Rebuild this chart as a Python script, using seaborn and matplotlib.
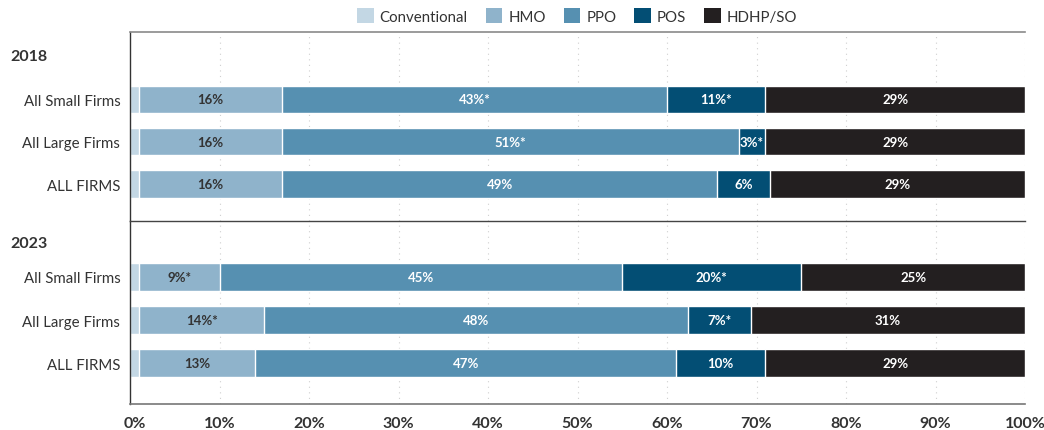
import matplotlib
matplotlib.use("Agg")
import matplotlib.pyplot as plt
import seaborn as sns
import pandas as pd
import numpy as np
from matplotlib.patches import Patch
import matplotlib.transforms as mtransforms

# ---------------- data ----------------
categories = ["All Small Firms", "All Large Firms", "ALL FIRMS"]
plans = ["Conventional", "HMO", "PPO", "POS", "HDHP/SO"]
colors = ["#c3d7e4", "#8fb3cb", "#5690b1", "#034e74", "#231f20"]
label_colors = ["#333333", "#333333", "white", "white", "white"]

conv_2018 = [1, 1, 1]
hmo_2018 = [16, 16, 16]
ppo_2018 = [43, 51, 48.6]
pos_2018 = [11, 3, 5.9]
hdhp_2018 = [29, 29, 28.5]
labels_2018 = [
    ["", "", ""],
    ["16%", "16%", "16%"],
    ["43%*", "51%*", "49%"],
    ["11%*", "3%*", "6%"],
    ["29%", "29%", "29%"],
]

conv_2023 = [1, 1, 1]
hmo_2023 = [9, 14, 13]
ppo_2023 = [45, 47.4, 47]
pos_2023 = [20, 7, 10]
hdhp_2023 = [25, 30.6, 29]
labels_2023 = [
    ["", "", ""],
    ["9%*", "14%*", "13%"],
    ["45%", "48%", "47%"],
    ["20%*", "7%*", "10%"],
    ["25%", "31%", "29%"],
]

years = ["2018", "2023"]
xticks = [0, 10, 20, 30, 40, 50, 60, 70, 80, 90, 100]
xticklabels = [f"{t}%" for t in xticks]

# ---------------- style ----------------
sns.set_theme(style="white")
plt.rcParams["font.family"] = ["Lato", "DejaVu Sans"]

W, H = 1044, 431
fig = plt.figure(figsize=(W / 100, H / 100), dpi=100)

def fx(px):
    return px / W

def fy(py):
    return 1 - py / H

left, right = 130, 1025
ax1 = fig.add_axes([fx(left), fy(222), fx(right) - fx(left), fy(33) - fy(222)])
ax2 = fig.add_axes([fx(left), fy(405), fx(right) - fx(left), fy(222) - fy(405)])

panels = [
    (ax1, [conv_2018, hmo_2018, ppo_2018, pos_2018, hdhp_2018], labels_2018, (2.87, -1.58)),
    (ax2, [conv_2023, hmo_2023, ppo_2023, pos_2023, hdhp_2023], labels_2023, (2.95, -1.30)),
]

for ax, series, labels, ylim in panels:
    arr = np.array(series, dtype=float)
    cum = np.cumsum(arr, axis=0)
    # grid
    for t in xticks[1:]:
        ax.axvline(t, color="#cfcfcf", lw=0.8, ls=(0, (1, 4)), zorder=0)
    # draw back to front
    for i in range(len(plans) - 1, -1, -1):
        df = pd.DataFrame({"cat": categories, "val": cum[i]})
        sns.barplot(data=df, x="val", y="cat", color=colors[i], orient="h",
                    width=0.64, ax=ax, saturation=1, zorder=2, order=categories)
    # labels
    for i in range(len(plans)):
        starts = cum[i] - arr[i]
        for j in range(len(categories)):
            lab = labels[i][j]
            if lab:
                ax.text(starts[j] + arr[i][j] / 2, j, lab, ha="center", va="center",
                        fontsize=9.5, fontweight="bold", color=label_colors[i], zorder=5)
    ax.set_xlim(0, 100)
    ax.set_ylim(*ylim)
    ax.set_xlabel("")
    ax.set_ylabel("")
    ax.tick_params(axis="y", length=0, pad=7, labelsize=10.8, labelcolor="#333333")
    ax.set_xticks(xticks)
    ax.spines["right"].set_visible(False)
    ax.spines["left"].set_color("#333333")
    ax.spines["left"].set_linewidth(1.0)

ax1.spines["bottom"].set_visible(False)
ax1.spines["top"].set_color("#8a8a8a")
ax1.spines["top"].set_linewidth(1.2)
ax1.tick_params(axis="x", length=0, labelbottom=False)

ax2.spines["top"].set_color("#444444")
ax2.spines["top"].set_linewidth(1.0)
ax2.spines["bottom"].set_color("#777777")
ax2.spines["bottom"].set_linewidth(1.2)
ax2.set_xticklabels(xticklabels)
ax2.tick_params(axis="x", length=0, pad=9, labelsize=11.5, labelcolor="#333333")
for t in ax2.get_xticklabels():
    t.set_fontweight("bold")
# first label sits slightly right of its tick in the reference
first = ax2.get_xticklabels()[0]
first.set_transform(first.get_transform() + mtransforms.ScaledTranslation(5 / 100, 0, fig.dpi_scale_trans))

# year labels
fig.text(fx(10), fy(57), years[0], fontsize=11.5, fontweight="bold", color="#333333", va="center")
fig.text(fx(10), fy(244), years[1], fontsize=11.5, fontweight="bold", color="#333333", va="center")

# legend
handles = [Patch(facecolor=c, edgecolor="none", label=p) for c, p in zip(colors, plans)]
leg = fig.legend(handles=handles, loc="center", bbox_to_anchor=(fx(577), fy(17)), ncol=5,
                 frameon=False, fontsize=10.8, handlelength=1.1, handleheight=1.1,
                 handletextpad=0.4, columnspacing=1.2)
for t in leg.get_texts():
    t.set_color("#333333")

fig.savefig("out.png", dpi=100)
